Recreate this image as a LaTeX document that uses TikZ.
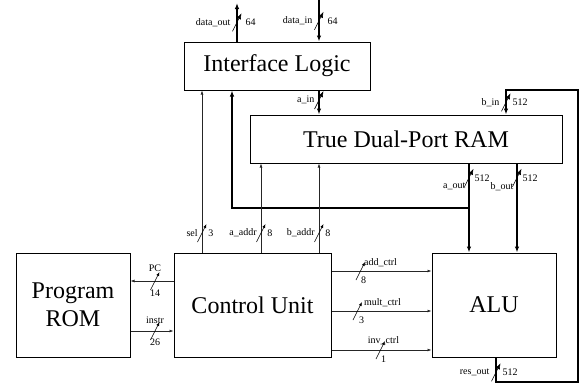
\documentclass[tikz,border=0pt]{standalone}
\usepackage{fontspec}
\setmainfont{Liberation Serif}
\usetikzlibrary{arrows.meta}

\tikzset{
  block/.style={draw, line width=1pt, align=center, inner sep=0pt,
    font=\fontsize{24}{28}\selectfont},
  bus/.style={line width=1.4pt, -{Latex[length=6pt,width=4.5pt]}},
  ctrl/.style={line width=0.6pt, black!85, -{Latex[length=4pt,width=3pt]}},
  lbl/.style={font=\fontsize{10}{11}\selectfont, inner sep=1pt, black},
  pics/slash/.style={code={\draw[line width=0.6pt, black] (-4.5,9) -- (4.5,-9);}},
}

\begin{document}
\begin{tikzpicture}[x=1pt, y=-1pt]
  \useasboundingbox (0,0) rectangle (582,386);

  % blocks
  \node[block, minimum width=186, minimum height=48] (iface) at (277,66) {Interface Logic};
  \node[block, minimum width=312, minimum height=48] (ram) at (406,139) {True Dual-Port RAM};
  \node[block, minimum width=114, minimum height=104] (rom) at (73,305) {Program\\ROM};
  \node[block, minimum width=157, minimum height=104] (cu) at (252.5,305) {Control Unit};
  \node[block, minimum width=124, minimum height=104] (alu) at (494,305) {ALU};

  % free ends and bends
  \coordinate (dout) at (237,3);
  \coordinate (din) at (319,0);
  \coordinate (aout) at (469,0);
  \coordinate (bout) at (517,0);
  \coordinate (fb) at (232,208);
  \coordinate (rout) at (496,382);
  \coordinate (loop) at (578,90);
  \coordinate (bin) at (506,90);

  % host side
  \draw[bus] (iface.north -| dout) -- (dout) pic[pos=.5]{slash}
    node[pos=.5, lbl, left=5pt] {data\_out} node[pos=.5, lbl, right=7pt] {64};
  \draw[bus] (din) -- (iface.north -| din) pic[pos=.5]{slash}
    node[pos=.5, lbl, left=5pt] {data\_in} node[pos=.5, lbl, right=7pt] {64};
  \draw[bus] (iface.south -| din) -- (ram.north -| din) pic[pos=.4]{slash}
    node[pos=.4, lbl, left=3pt] {a\_in};

  % RAM outputs
  \draw[bus] (ram.south -| aout) -- (alu.north -| aout) pic[pos=.16]{slash}
    node[pos=.16, lbl, right=4pt] {512} node[pos=.26, lbl, left=2pt] {a\_out};
  \draw[bus] (ram.south -| bout) -- (alu.north -| bout) pic[pos=.16]{slash}
    node[pos=.16, lbl, right=4pt] {512} node[pos=.26, lbl, left=2pt] {b\_out};
  \draw[bus] (fb -| aout) -- (fb) -- (iface.south -| fb);

  % result loop back into port b
  \draw[bus] (alu.south -| rout) -- (rout) pic[pos=.6]{slash}
    node[pos=.6, lbl, left=5pt] {res\_out} node[pos=.6, lbl, right=5pt] {512}
    -| (loop) -- (bin) -- (ram.north -| bin) pic[pos=.5]{slash}
    node[pos=.5, lbl, left=5pt] {b\_in} node[pos=.5, lbl, right=5pt] {512};

  % control unit outputs
  \draw[ctrl] (cu.north -| 202,0) -- (iface.south -| 202,0) pic[pos=.12]{slash}
    node[pos=.12, lbl, left=3pt] {sel} node[pos=.12, lbl, right=5pt] {3};
  \draw[ctrl] (cu.north -| 261,0) -- (ram.south -| 261,0) pic[pos=.22]{slash}
    node[pos=.22, lbl, left=3pt] {a\_addr} node[pos=.22, lbl, right=5pt] {8};
  \draw[ctrl] (cu.north -| din) -- (ram.south -| din) pic[pos=.22]{slash}
    node[pos=.22, lbl, left=3pt] {b\_addr} node[pos=.22, lbl, right=5pt] {8};

  \draw[ctrl] (cu.west |- 0,281) -- (rom.east |- 0,281) pic[pos=.43]{slash}
    node[pos=.43, lbl, above=8pt] {PC} node[pos=.43, lbl, below=8pt] {14};
  \draw[ctrl] (rom.east |- 0,331) -- (cu.west |- 0,331) pic[pos=.57]{slash}
    node[pos=.57, lbl, above=6pt] {instr} node[pos=.57, lbl, below=7pt] {26};

  \draw[ctrl] (cu.east |- 0,271) -- (alu.west |- 0,271) pic[pos=.29]{slash}
    node[pos=.49, lbl, above=3pt] {add\_ctrl} node[pos=.32, lbl, below=5pt] {8};
  \draw[ctrl] (cu.east |- 0,311) -- (alu.west |- 0,311) pic[pos=.26]{slash}
    node[pos=.51, lbl, above=3pt] {mult\_ctrl} node[pos=.3, lbl, below=5pt] {3};
  \draw[ctrl] (cu.east |- 0,350) -- (alu.west |- 0,350) pic[pos=.49]{slash}
    node[pos=.52, lbl, above=4pt] {inv\_ctrl} node[pos=.52, lbl, below=5pt] {1};
\end{tikzpicture}
\end{document}
